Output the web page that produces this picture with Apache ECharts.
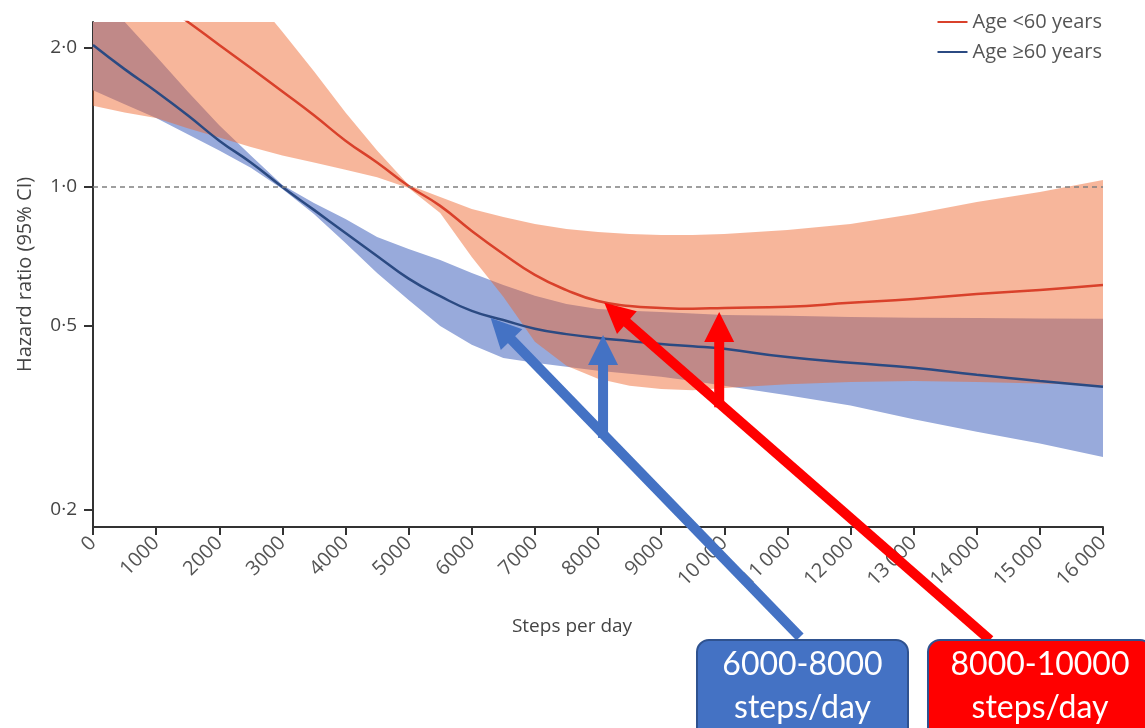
<!DOCTYPE html>
<html>
<head>
<meta charset="utf-8">
<script src="https://cdn.jsdelivr.net/npm/echarts@6/dist/echarts.min.js"></script>
<style>
  html, body { margin: 0; padding: 0; background: #fff; }
  #main { width: 1145px; height: 728px; }
</style>
</head>
<body>
<div id="main"></div>
<script>
// steps per day (x positions of the readings)
const steps = [0, 500, 1000, 1500, 2000, 2500, 3000, 3500, 4000, 4500, 5000, 5500, 6000, 6500,
  7000, 7500, 8000, 8500, 9000, 9500, 10000, 11000, 12000, 13000, 14000, 15000, 16000];

// Age <60 years: hazard ratio and 95% CI
const youngHR = [3.18, 2.84, 2.54, 2.28, 2.03, 1.81, 1.61, 1.43, 1.26, 1.13, 1.005, 0.91, 0.803, 0.716,
  0.645, 0.598, 0.566, 0.552, 0.547, 0.545, 0.547, 0.55, 0.561, 0.572, 0.586, 0.598, 0.613];
const youngLow = [1.50, 1.45, 1.41, 1.34, 1.28, 1.22, 1.17, 1.13, 1.09, 1.05, 0.995, 0.878, 0.705, 0.578,
  0.462, 0.41, 0.384, 0.371, 0.365, 0.363, 0.367, 0.374, 0.378, 0.38, 0.378, 0.375, 0.372];
const youngHigh = [7.1, 5.82, 4.76, 3.92, 3.21, 2.62, 2.17, 1.78, 1.45, 1.2, 1.01, 0.951, 0.896, 0.861,
  0.831, 0.811, 0.799, 0.791, 0.787, 0.787, 0.791, 0.807, 0.831, 0.874, 0.928, 0.975, 1.035];

// Age >=60 years: hazard ratio and 95% CI
const oldHR = [2.03, 1.80, 1.61, 1.43, 1.26, 1.13, 1.0, 0.892, 0.795, 0.709, 0.633, 0.58, 0.539, 0.515,
  0.493, 0.48, 0.471, 0.464, 0.457, 0.452, 0.446, 0.428, 0.416, 0.406, 0.392, 0.38, 0.369];
const oldLow = [1.62, 1.51, 1.41, 1.30, 1.20, 1.10, 0.99, 0.874, 0.756, 0.651, 0.569, 0.50, 0.455, 0.426,
  0.416, 0.408, 0.40, 0.394, 0.388, 0.38, 0.371, 0.354, 0.336, 0.314, 0.295, 0.278, 0.26];
const oldHigh = [2.70, 2.28, 1.92, 1.61, 1.36, 1.17, 1.01, 0.923, 0.852, 0.779, 0.734, 0.695, 0.651, 0.613,
  0.581, 0.558, 0.544, 0.539, 0.536, 0.532, 0.528, 0.526, 0.523, 0.521, 0.52, 0.519, 0.518];

// y tick labels (hazard ratio, log scale)
const hrTicks = [0.2, 0.5, 1, 2];
const hrRange = [0.1834, 2.277];

// annotation arrow tips [steps, HR]
const blueTips = [[6300, 0.52], [8080, 0.478]];
const redTips = [[8100, 0.561], [9920, 0.536]];
const boxLabels = [['6000-8000', 'steps/day'], ['8000-10000', 'steps/day']];

const lg = Math.log10;
const font = '"Open Sans", "DejaVu Sans", sans-serif';

const myChart = echarts.init(document.getElementById('main'));

function band(name, low, high, fill) {
  return {
    name: name,
    type: 'custom',
    clip: true,
    silent: true,
    encode: { x: 0, y: [1, 2] },
    data: steps.map((s, i) => [s, lg(low[i]), lg(high[i])]),
    renderItem: function (params, api) {
      if (params.dataIndexInside !== 0) return null;
      const n = params.dataInsideLength;
      const top = [], bottom = [];
      for (let i = 0; i < n; i++) {
        top.push(api.coord([api.value(0, i), api.value(2, i)]));
        bottom.push(api.coord([api.value(0, i), api.value(1, i)]));
      }
      return {
        type: 'polygon',
        shape: { points: top.concat(bottom.reverse()) },
        style: { fill: fill }
      };
    }
  };
}

function line(name, hr, color) {
  return {
    name: name,
    type: 'line',
    data: steps.map((s, i) => [s, lg(hr[i])]),
    showSymbol: false,
    smooth: 0.5,
    color: color,
    lineStyle: { color: color, width: 2.5 }
  };
}

const redLine = line('Age <60 years', youngHR, '#d9412b');
redLine.markLine = {
  silent: true,
  symbol: 'none',
  label: { show: false },
  lineStyle: { color: '#808080', type: [5, 4], width: 1.5 },
  data: [{ yAxis: 0 }]
};

myChart.setOption({
  animation: false,
  grid: { left: 93, right: 42, top: 22, bottom: 201, outerBoundsMode: 'none' },
  legend: {
    data: ['Age <60 years', 'Age ≥60 years'],
    orient: 'vertical',
    right: 38,
    top: 7,
    icon: 'rect',
    itemWidth: 30,
    itemHeight: 2,
    itemGap: 10,
    textStyle: { color: '#555', fontSize: 20, fontFamily: font }
  },
  xAxis: {
    type: 'value',
    min: 0,
    max: 16000,
    interval: 1000,
    splitLine: { show: false },
    axisLine: { onZero: false, lineStyle: { color: '#333', width: 2 } },
    axisTick: { length: 8, lineStyle: { color: '#333', width: 2 } },
    axisLabel: {
      rotate: 45,
      margin: 13,
      color: '#555',
      fontSize: 20,
      fontFamily: font,
      formatter: v => v >= 10000 ? Math.floor(v / 1000) + '\u2009000' : String(v)
    },
    name: 'Steps per day',
    nameLocation: 'middle',
    nameGap: 90,
    nameTextStyle: { color: '#444', fontSize: 19, fontFamily: font, padding: [0, 52, 0, 0] }
  },
  yAxis: {
    type: 'value',
    min: lg(hrRange[0]),
    max: lg(hrRange[1]),
    splitLine: { show: false },
    axisLine: { show: true, onZero: false, lineStyle: { color: '#333', width: 2 } },
    axisTick: { show: true, length: 9, customValues: hrTicks.map(lg), lineStyle: { color: '#333', width: 2 } },
    axisLabel: {
      customValues: hrTicks.map(lg),
      margin: 16,
      color: '#444',
      fontSize: 19,
      fontFamily: font,
      formatter: v => Math.pow(10, v).toFixed(1).replace('.', '·')
    },
    name: 'Hazard ratio (95% CI)',
    nameLocation: 'middle',
    nameGap: 58,
    nameTextStyle: { color: '#444', fontSize: 20, fontFamily: font }
  },
  series: [
    band('old band', oldLow, oldHigh, '#98aadb'),
    band('young band', youngLow, youngHigh, 'rgba(238,100,43,0.47)'),
    line('Age ≥60 years', oldHR, '#2b4a82'),
    redLine
  ]
});

// annotation arrows and boxes
function toPx(p) {
  return myChart.convertToPixel({ xAxisIndex: 0, yAxisIndex: 0 }, [p[0], lg(p[1])]);
}

function arrow(tail, tip, color) {
  const dx = tip[0] - tail[0], dy = tip[1] - tail[1];
  const len = Math.sqrt(dx * dx + dy * dy);
  const ux = dx / len, uy = dy / len;
  const head = 30, half = 15;
  const base = [tip[0] - ux * head, tip[1] - uy * head];
  return [
    { type: 'line', z: 100, shape: { x1: tail[0], y1: tail[1], x2: base[0] + ux * 2, y2: base[1] + uy * 2 },
      style: { stroke: color, lineWidth: 10 } },
    { type: 'polygon', z: 100, shape: { points: [tip, [base[0] - uy * half, base[1] + ux * half], [base[0] + uy * half, base[1] - ux * half]] },
      style: { fill: color } }
  ];
}

function onLine(a, b, x) {
  const t = (x - a[0]) / (b[0] - a[0]);
  return a[1] + t * (b[1] - a[1]);
}

function boxGraphic(x, w, color, labels) {
  const cx = x + w / 2;
  return [
    { type: 'rect', z: 110, shape: { x: x, y: 640, width: w, height: 110, r: 12 },
      style: { fill: color, stroke: '#2f528f', lineWidth: 2 } },
    { type: 'text', z: 111, style: { text: labels[0], x: cx, y: 665, align: 'center', verticalAlign: 'middle',
      fill: '#fff', font: '32px Lato, "Open Sans", sans-serif' } },
    { type: 'text', z: 111, style: { text: labels[1], x: cx, y: 708, align: 'center', verticalAlign: 'middle',
      fill: '#fff', font: '32px Lato, "Open Sans", sans-serif' } }
  ];
}

const blueTail = [800, 637];
const redTail = [990, 640];
const bDiag = toPx(blueTips[0]), bVert = toPx(blueTips[1]);
const rDiag = toPx(redTips[0]), rVert = toPx(redTips[1]);

const elements = []
  .concat(arrow(blueTail, bDiag, '#4472c4'))
  .concat(arrow([bVert[0], onLine(blueTail, bDiag, bVert[0]) + 4], bVert, '#4472c4'))
  .concat(arrow(redTail, rDiag, '#ff0000'))
  .concat(arrow([rVert[0], onLine(redTail, rDiag, rVert[0]) + 4], rVert, '#ff0000'))
  .concat(boxGraphic(697, 211, '#4472c4', boxLabels[0]))
  .concat(boxGraphic(928, 224, '#ff0000', boxLabels[1]));

myChart.setOption({ graphic: elements });

window.onresize = function () {
  myChart.resize();
};
</script>
</body>
</html>
